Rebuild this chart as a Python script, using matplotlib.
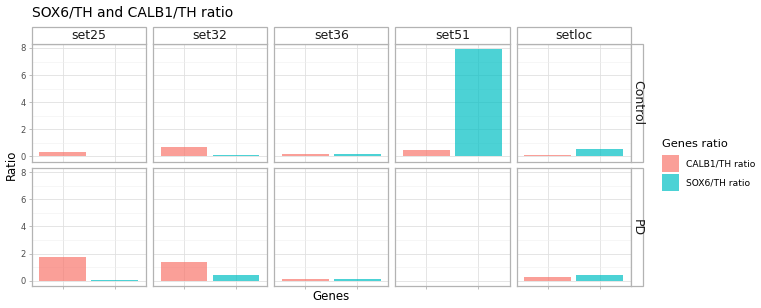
import numpy as np
import matplotlib
matplotlib.use("Agg")
import matplotlib.pyplot as plt
from matplotlib.patches import Rectangle

# data
sets = ["set25", "set32", "set36", "set51", "setloc"]
conditions = ["Control", "PD"]
genes = ["CALB1/TH ratio", "SOX6/TH ratio"]
calb1_control = [0.32, 0.67, 0.17, 0.45, 0.10]
sox6_control = [0.03, 0.13, 0.20, 7.90, 0.52]
calb1_pd = [1.74, 1.40, 0.13, np.nan, 0.30]
sox6_pd = [0.07, 0.39, 0.14, np.nan, 0.45]

values = {
    "Control": [calb1_control, sox6_control],
    "PD": [calb1_pd, sox6_pd],
}
colors = ["#F8766D", "#00BFC4"]
alpha = 0.7

W, H = 761, 308
fig = plt.figure(figsize=(W / 100, H / 100), dpi=100)
plt.rcParams["font.family"] = "DejaVu Sans"

border = "#b3b3b3"
ymin, ymax = -0.395, 8.295


def fx(px):
    return px / W


def fy(py):
    return 1 - py / H


left0, pw, step = 31.7, 114.3, 121.2
rows_top = [44.0, 168.3]
ph = 117.7

for r, cond in enumerate(conditions):
    for c, s in enumerate(sets):
        x0 = left0 + c * step
        y0 = rows_top[r]
        ax = fig.add_axes([fx(x0), fy(y0 + ph), pw / W, ph / H])
        for g in range(2):
            v = values[cond][g][c]
            if not np.isnan(v):
                ax.bar(g + 1, v, width=0.9, color=colors[g], alpha=alpha,
                       linewidth=0, zorder=3)
        ax.set_xlim(0.4, 2.6)
        ax.set_ylim(ymin, ymax)
        ax.set_yticks([0, 2, 4, 6, 8])
        ax.set_yticks([1, 3, 5, 7], minor=True)
        ax.set_xticks([1, 2])
        ax.grid(True, which="major", color="#e0e0e0", linewidth=0.6, zorder=0)
        ax.grid(True, which="minor", axis="y", color="#efefef", linewidth=0.4, zorder=0)
        for sp in ax.spines.values():
            sp.set_color(border)
            sp.set_linewidth(0.9)
        ax.tick_params(axis="both", which="both", length=2.5, color=border,
                       width=0.6, labelsize=6, labelcolor="#4d4d4d", pad=2)
        ax.tick_params(axis="y", which="minor", length=0)
        ax.set_xticklabels([])
        if c != 0:
            ax.set_yticklabels([])
            ax.tick_params(axis="y", which="major", length=0)
        if r != 1:
            ax.tick_params(axis="x", length=0)

        # top strips
        if r == 0:
            fig.patches.append(Rectangle((fx(x0), fy(43.7)), pw / W, 17 / H,
                                         transform=fig.transFigure, facecolor="white",
                                         edgecolor=border, linewidth=0.9))
            fig.text(fx(x0 + pw / 2), fy(35.2), s, ha="center", va="center",
                     fontsize=9, color="#1a1a1a")

    # right strip
    xs = left0 + 4 * step + pw
    fig.patches.append(Rectangle((fx(xs), fy(rows_top[r] + ph)), 12.3 / W, ph / H,
                                 transform=fig.transFigure, facecolor="white",
                                 edgecolor=border, linewidth=0.9))
    fig.text(fx(xs + 6.5), fy(rows_top[r] + ph / 2), cond, ha="center", va="center",
             rotation=-90, fontsize=9, color="#1a1a1a")

fig.text(fx(31.7), fy(12.5), "SOX6/TH and CALB1/TH ratio", ha="left", va="center",
         fontsize=10, color="black")
fig.text(fx(331), fy(297), "Genes", ha="center", va="center", fontsize=8.5)
fig.text(fx(11), fy(165), "Ratio", ha="center", va="center", rotation=90, fontsize=8.5)

# legend
fig.text(fx(661.5), fy(144), "Genes ratio", ha="left", va="center", fontsize=8.2)
key_tops = [155.0, 174.0]
for g, lab in enumerate(genes):
    fig.patches.append(Rectangle((fx(661.7), fy(key_tops[g] + 17.3)), 17.3 / W, 17.3 / H,
                                 transform=fig.transFigure, facecolor=colors[g],
                                 alpha=alpha, linewidth=0))
    fig.text(fx(686), fy(key_tops[g] + 8.6), lab, ha="left", va="center",
             fontsize=6.6, color="black")

fig.savefig("out.png", dpi=100)
